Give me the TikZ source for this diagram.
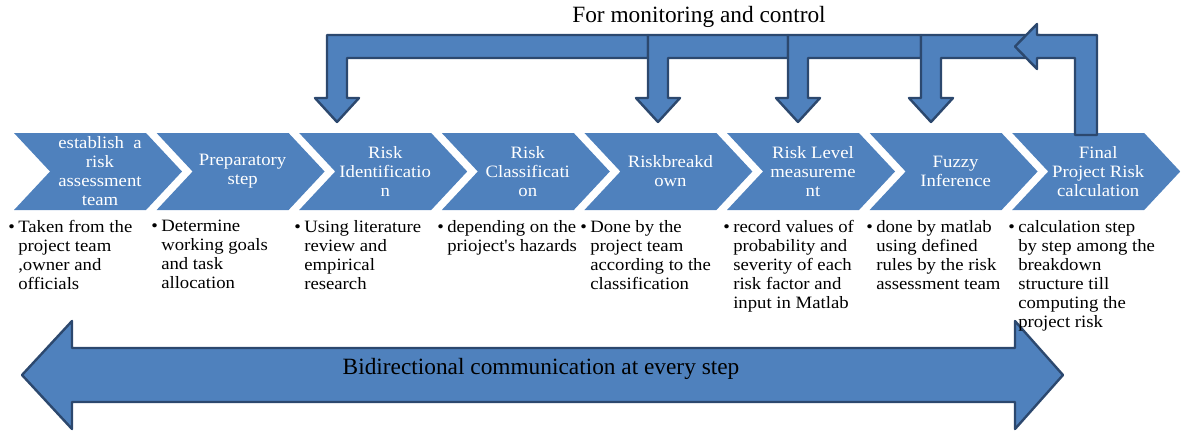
\documentclass[tikz,border=0pt]{standalone}
\usepackage{fontspec}
\setmainfont{Liberation Serif}
\newfontfamily\stepfont[FakeStretch=1.08]{Liberation Serif}
\usepackage{tikz}

\definecolor{stepblue}{HTML}{4F81BD}
\definecolor{edgeblue}{HTML}{2C486E}

\tikzset{
  chev/.style={fill=stepblue},
  blockarrow/.style={fill=stepblue, draw=edgeblue, line width=1.8pt, line join=round},
  steptext/.style={text=white, align=center, inner sep=0pt, font=\stepfont\fontsize{13pt}{14.25pt}\selectfont},
  desc/.style={anchor=north west, align=left, inner sep=0pt, font=\stepfont\fontsize{13pt}{14.25pt}\selectfont},
  bigtext/.style={inner sep=0pt, font=\fontsize{17.5pt}{20pt}\selectfont}
}

\newcommand{\bul}{\llap{\textbullet\hspace{2.5pt}}}

\begin{document}
\begin{tikzpicture}[x=0.75pt, y=-0.75pt]
	\useasboundingbox (0,0) rectangle (1181,430);
	
	% the eight steps
	\fill[chev] (14,133)    -- ++(132,0) -- ++(36,38.5) -- ++(-36,38.5) -- ++(-132,0) -- ++(36,-38.5) -- cycle;
	\fill[chev] (156.6,133) -- ++(132,0) -- ++(36,38.5) -- ++(-36,38.5) -- ++(-132,0) -- ++(36,-38.5) -- cycle;
	\fill[chev] (299.2,133) -- ++(132,0) -- ++(36,38.5) -- ++(-36,38.5) -- ++(-132,0) -- ++(36,-38.5) -- cycle;
	\fill[chev] (441.8,133) -- ++(132,0) -- ++(36,38.5) -- ++(-36,38.5) -- ++(-132,0) -- ++(36,-38.5) -- cycle;
	\fill[chev] (584.4,133) -- ++(132,0) -- ++(36,38.5) -- ++(-36,38.5) -- ++(-132,0) -- ++(36,-38.5) -- cycle;
	\fill[chev] (727,133)   -- ++(132,0) -- ++(36,38.5) -- ++(-36,38.5) -- ++(-132,0) -- ++(36,-38.5) -- cycle;
	\fill[chev] (869.6,133) -- ++(132,0) -- ++(36,38.5) -- ++(-36,38.5) -- ++(-132,0) -- ++(36,-38.5) -- cycle;
	\fill[chev] (1012.2,133) -- ++(132,0) -- ++(36,38.5) -- ++(-36,38.5) -- ++(-132,0) -- ++(36,-38.5) -- cycle;
	
	\node[steptext] (s1) at (100,171.5)    {establish~~a\\risk\\assessment\\team};
	\node[steptext] (s2) at (242.6,171.5)  {Preparatory\\step};
	\node[steptext] (s3) at (385.2,171.5)  {Risk\\Identificatio\\n};
	\node[steptext] (s4) at (527.8,171.5)  {Risk\\Classificati\\on};
	\node[steptext] (s5) at (670.4,171.5)  {Riskbreakd\\own};
	\node[steptext] (s6) at (813,171.5)    {Risk Level\\measureme\\nt};
	\node[steptext] (s7) at (955.6,171.5)  {Fuzzy\\Inference};
	\node[steptext] (s8) at (1098.2,171.5) {Final\\Project Risk\\calculation};
	
	% monitoring and control
	\draw[blockarrow] (648,35) -- (327,35) -- (327,98) -- (315,98) -- (337,122) -- (359,98) -- (347,98) -- (347,58) -- (648,58) -- cycle;
	\draw[blockarrow] (788,35) -- (648,35) -- (648,98) -- (636,98) -- (658,122) -- (680,98) -- (668,98) -- (668,58) -- (788,58) -- cycle;
	\draw[blockarrow] (921,35) -- (788,35) -- (788,98) -- (776,98) -- (798,122) -- (820,98) -- (808,98) -- (808,58) -- (921,58) -- cycle;
	\draw[blockarrow] (1040,35) -- (921,35) -- (921,98) -- (909,98) -- (931,122) -- (953,98) -- (941,98) -- (941,58) -- (1040,58) -- cycle;
	\draw[blockarrow] (1075,135) -- (1075,58) -- (1037,58) -- (1037,69) -- (1015,46.5) -- (1037,24) -- (1037,35) -- (1097,35) -- (1097,135) -- cycle;
	
	\node[bigtext] (mon) at (699,17) {For monitoring and control};
	
	% communication
	\draw[blockarrow] (22,375) -- (72,321) -- (72,348) -- (1015,348) -- (1015,321) -- (1063,375) -- (1015,429) -- (1015,402) -- (72,402) -- (72,429) -- cycle;
	
	\node[bigtext] (comm) at (541,369) {Bidirectional communication at every step};
	
	% what each step does
	\node[desc] (d1) at (18,220)   {\bul Taken from the\\project team\\,owner and\\officials};
	\node[desc] (d2) at (161,220)  {\bul Determine\\working goals\\and task\\allocation};
	\node[desc] (d3) at (304,220)  {\bul Using literature\\review and\\empirical\\research};
	\node[desc] (d4) at (447,220)  {\bul depending on the\\prioject's hazards};
	\node[desc] (d5) at (590,220)  {\bul Done by the\\project team\\according to the\\classification};
	\node[desc] (d6) at (733,220)  {\bul record values of\\probability and\\severity of each\\risk factor and\\input in Matlab};
	\node[desc] (d7) at (876,220)  {\bul done by matlab\\using defined\\rules by the risk\\assessment team};
	\node[desc] (d8) at (1018,220) {\bul calculation step\\by step among the\\breakdown\\structure till\\computing the\\project risk};
	
\end{tikzpicture}
\end{document}
